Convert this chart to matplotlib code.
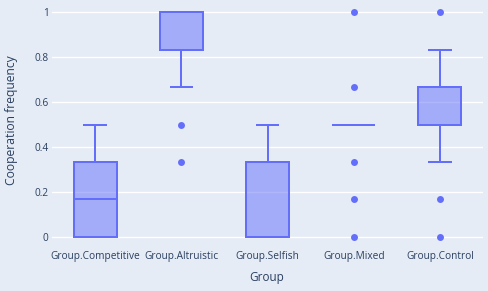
import matplotlib
matplotlib.use("Agg")
import matplotlib.pyplot as plt

groups = ["Group.Competitive", "Group.Altruistic", "Group.Selfish", "Group.Mixed", "Group.Control"]

s = 1 / 6
competitive = [0, 0, 0, s, s, 2 * s, 2 * s, 3 * s]
altruistic = [2 * s, 3 * s, 4 * s, 5 * s, 5 * s, 5 * s] + [1] * 10
selfish = [0, 0, 0, 0, 0, s, 2 * s, 2 * s, 3 * s]
mixed = [0, s, 2 * s] + [0.5] * 10 + [4 * s, 1]
control = [0, s, 2 * s] + [0.5] * 6 + [4 * s] * 4 + [5 * s, 1]

yticks = [0, 0.2, 0.4, 0.6, 0.8, 1]
ytick_labels = ["0", "0.2", "0.4", "0.6", "0.8", "1"]

blue = "#636efa"
bg = "#e5ecf6"
text_col = "#2a3f5f"

plt.rcParams["font.family"] = ["Open Sans", "DejaVu Sans"]

fig = plt.figure(figsize=(4.88, 2.91), dpi=100, facecolor=bg)
ax = fig.add_axes([52 / 488, 42 / 291, 431 / 488, 249 / 291], facecolor=bg)

lw = 1.44
ax.boxplot([competitive, altruistic, selfish, mixed, control],
           positions=range(len(groups)), widths=0.5, capwidths=0.25,
           patch_artist=True,
           boxprops=dict(facecolor=(99 / 255, 110 / 255, 250 / 255, 0.5), edgecolor=blue, linewidth=lw),
           medianprops=dict(color=blue, linewidth=lw),
           whiskerprops=dict(color=blue, linewidth=lw),
           capprops=dict(color=blue, linewidth=lw),
           flierprops=dict(marker="o", markerfacecolor=blue, markeredgecolor="none", markersize=5))

ax.set_xlim(-0.5, len(groups) - 0.5)
ax.set_ylim(-0.0556, 1.0556)
ax.set_yticks(yticks)
ax.set_yticklabels(ytick_labels)
ax.set_xticks(range(len(groups)))
ax.set_xticklabels(groups)
ax.grid(axis="y", color="white", linewidth=1)
ax.set_axisbelow(True)
for sp in ax.spines.values():
    sp.set_visible(False)
ax.tick_params(length=0, colors=text_col, labelsize=7.3)
ax.tick_params(axis="y", pad=2.5)
ax.tick_params(axis="x", pad=1.5)

fig.text(267 / 488, 1 - 278 / 291, "Group", ha="center", va="center", color=text_col, fontsize=8.5)
fig.text(12 / 488, 1 - 120 / 291, "Cooperation frequency", ha="center", va="center",
         rotation=90, color=text_col, fontsize=8.7)

fig.savefig("out.png", dpi=100, facecolor=bg)
